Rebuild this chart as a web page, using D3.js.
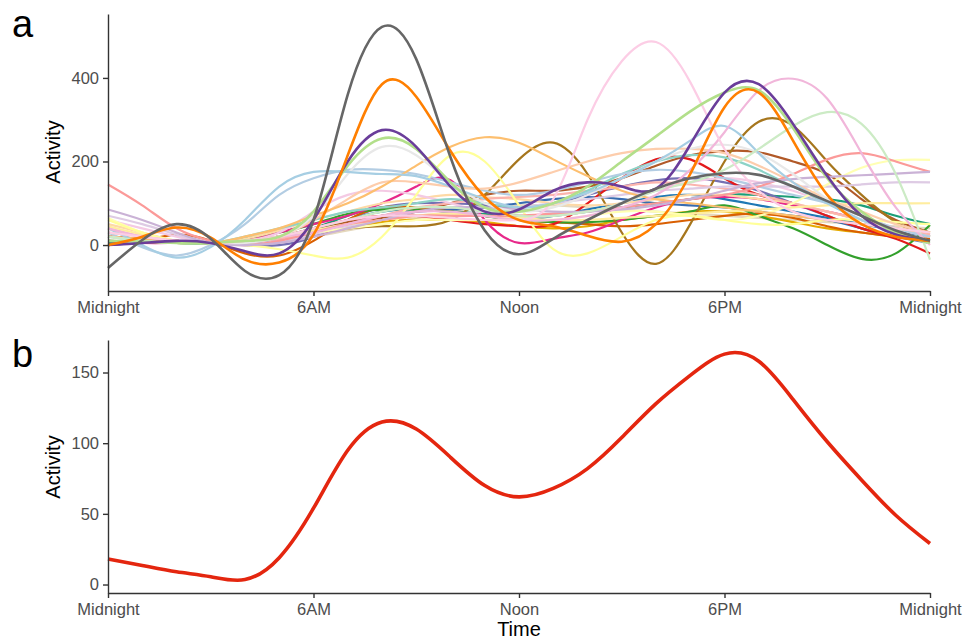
<!DOCTYPE html>
<html>
<head>
	<title>Activity by time of day</title>
	<meta charset="utf-8" />
	<style>
		html, body { margin: 0; background: #fff; }
		svg text { font-family: "Liberation Sans", Arial, sans-serif; }
		.axis path, .axis line { stroke: #333; stroke-width: 1.4; }
		.axis text { fill: #4d4d4d; font-size: 16.5px; }
	</style>
	<script src="https://cdn.jsdelivr.net/npm/d3@7"></script>
</head>
<body>
<svg id="chart" width="969" height="641"></svg>
<script>
// hours sampled 0..24
var hours = d3.range(0, 25);
var hourTicks = [0, 6, 12, 18, 24];
var hourLabels = ["Midnight", "6AM", "Noon", "6PM", "Midnight"];
var ticksA = [0, 200, 400];
var ticksB = [0, 50, 100, 150];

// panel a: one curve per individual
var sGrey     = [-55, 12, 50, 15, -62, -72, 60, 360, 522, 445, 210, 35, -22, 15, 60, 100, 135, 160, 172, 168, 140, 105, 70, 35, 10];
var sOrange   = [0, 20, 42, 18, -35, -42, 25, 215, 385, 355, 225, 115, 60, 45, 22, 8, 50, 170, 330, 365, 250, 120, 50, 20, 10];
var sPurple   = [0, 5, 10, 5, -15, -20, 60, 200, 275, 235, 140, 80, 85, 130, 150, 140, 135, 240, 365, 385, 290, 165, 70, 25, 10];
var sLtGreen  = [10, 8, 5, 5, 10, 20, 80, 190, 255, 230, 150, 90, 80, 100, 140, 200, 260, 320, 365, 370, 280, 160, 80, 30, 5];
var sPink     = [30, 20, 10, 5, 10, 20, 40, 60, 70, 70, 65, 60, 60, 110, 300, 440, 486, 390, 230, 130, 80, 60, 50, 40, 30];
var sLilac    = [40, 20, 10, 5, 10, 20, 30, 50, 70, 80, 80, 70, 60, 60, 70, 90, 120, 180, 270, 370, 398, 350, 220, 90, 0];
var sPaleGrn  = [20, 10, 5, 5, 10, 20, 40, 60, 80, 90, 90, 80, 70, 70, 80, 100, 130, 150, 180, 230, 285, 318, 290, 170, -35];
var sBrown    = [10, 8, 5, 5, 10, 20, 30, 40, 45, 45, 60, 120, 205, 245, 170, 30, -45, 50, 200, 295, 285, 200, 120, 55, 20];
var sRust     = [20, 15, 10, 5, 10, 20, 40, 55, 65, 80, 100, 120, 130, 130, 140, 160, 190, 215, 225, 222, 200, 170, 110, 60, 30];
var sPeach    = [20, 15, 10, 5, 20, 40, 70, 100, 140, 190, 235, 258, 245, 205, 165, 130, 110, 100, 90, 80, 70, 60, 50, 40, 30];
var sApricot  = [30, 20, 10, 5, 10, 20, 60, 110, 150, 150, 140, 135, 150, 175, 200, 220, 230, 230, 220, 190, 150, 110, 80, 50, 30];
var sYellow   = [60, 30, 10, 5, 0, -10, -25, -30, 20, 120, 215, 200, 95, -10, -20, 20, 60, 70, 60, 50, 50, 60, 60, 55, 50];
var sLemon    = [65, 30, 10, 5, 10, 20, 30, 40, 50, 60, 60, 60, 60, 60, 70, 80, 80, 70, 60, 70, 100, 145, 185, 203, 204];
var sCream    = [45, 25, 10, 5, 10, 20, 35, 50, 60, 70, 75, 70, 65, 60, 60, 65, 70, 75, 80, 85, 90, 95, 100, 100, 100];
var sLtBlue   = [40, 0, -30, -5, 60, 140, 175, 175, 170, 165, 140, 110, 90, 100, 125, 160, 200, 250, 285, 220, 150, 100, 60, 30, 10];
var sSky      = [30, -5, -25, 0, 50, 120, 160, 180, 180, 170, 150, 130, 120, 130, 150, 170, 180, 175, 160, 140, 120, 100, 70, 40, 20];
var sGreen    = [10, 8, 5, 5, 15, 30, 50, 75, 85, 85, 80, 70, 60, 55, 55, 60, 70, 80, 95, 70, 40, 0, -33, -20, 48];
var sTeal     = [5, 5, 5, 5, 10, 20, 40, 70, 90, 85, 80, 75, 70, 70, 80, 90, 100, 110, 120, 120, 115, 110, 95, 70, 50];
var sRed      = [20, 15, 10, 5, 10, 20, 40, 60, 70, 70, 60, 50, 45, 50, 100, 160, 205, 205, 160, 120, 100, 70, 40, 15, -20];
var sMagenta  = [10, 5, 5, 5, 10, 30, 50, 70, 100, 140, 155, 60, 5, 15, 30, 60, 90, 110, 115, 110, 95, 80, 60, 40, 25];
var sSalmon   = [145, 95, 40, 10, 0, 10, 30, 50, 60, 70, 70, 70, 70, 75, 80, 90, 100, 110, 120, 140, 170, 205, 220, 200, 175];
var sLavender = [85, 60, 30, 5, 0, 5, 20, 40, 60, 80, 90, 90, 85, 80, 80, 85, 95, 110, 130, 148, 158, 163, 167, 171, 175];
var sSilver   = [20, 10, 5, 5, 5, 20, 70, 170, 235, 215, 150, 100, 80, 90, 120, 160, 200, 230, 240, 220, 170, 110, 60, 30, 10];
var sMint     = [20, 10, 5, 5, 20, 40, 60, 80, 90, 100, 110, 100, 90, 100, 130, 170, 200, 215, 210, 180, 140, 100, 60, 30, 10];
var sBlue     = [5, 5, 5, 5, 10, 20, 35, 60, 80, 85, 80, 70, 60, 70, 85, 100, 115, 120, 110, 95, 80, 65, 50, 35, 20];
var sNavy     = [0, 5, 5, 5, 5, 10, 30, 50, 70, 80, 85, 90, 100, 110, 115, 110, 100, 95, 90, 80, 70, 60, 40, 20, 10];
var sSand     = [50, 30, 10, 5, 15, 35, 60, 80, 100, 110, 120, 115, 110, 100, 95, 100, 110, 120, 120, 110, 100, 80, 60, 40, 20];
var sRose     = [60, 40, 20, 5, 10, 30, 80, 120, 130, 120, 100, 80, 70, 70, 80, 100, 130, 150, 160, 150, 130, 100, 70, 40, 20];
var sMustard  = [5, 5, 5, 5, 10, 15, 25, 40, 55, 60, 60, 55, 45, 40, 45, 60, 70, 80, 80, 70, 55, 40, 30, 20, 10];
var sIndigo   = [0, 5, 5, 5, 0, 0, 20, 60, 90, 100, 100, 95, 90, 100, 120, 140, 155, 160, 150, 130, 100, 70, 40, 20, 5];
var sBlush    = [40, 20, 10, 5, 5, 15, 30, 50, 70, 90, 100, 110, 115, 120, 130, 140, 150, 145, 135, 120, 100, 80, 60, 40, 25];
var sMauve    = [70, 50, 25, 5, 0, 10, 25, 45, 60, 70, 75, 80, 90, 100, 110, 120, 130, 135, 140, 140, 140, 140, 145, 150, 150];
var sBeige    = [20, 15, 10, 5, 5, 10, 20, 35, 50, 65, 80, 90, 95, 95, 90, 85, 80, 75, 70, 65, 60, 55, 50, 45, 40];
var sDkOrange = [0, 10, 25, 10, -20, -25, 10, 60, 90, 90, 80, 70, 60, 55, 50, 45, 50, 60, 70, 75, 65, 45, 30, 20, 15];

var seriesA = [sBeige, sMustard, sNavy, sBlue, sTeal, sIndigo, sDkOrange, sGreen, sRed, sMagenta, sRust,
	sBrown, sSand, sBlush, sRose, sMauve, sMint, sSky, sCream, sLemon, sYellow, sApricot, sPeach,
	sSalmon, sLavender, sSilver, sLtBlue, sPaleGrn, sLilac, sPink, sLtGreen, sPurple, sOrange, sGrey];
var colorsA = ["#e5d8bd", "#e6ab02", "#386cb0", "#1f78b4", "#1b9e77", "#7570b3", "#d95f02", "#33a02c", "#e31a1c", "#e7298a", "#b15928",
	"#a6761d", "#fed9a6", "#fbb4ae", "#f4cae4", "#decbe4", "#8dd3c7", "#b3cde3", "#ffed9f", "#ffffb3", "#ffff99", "#fdcdac", "#fdbf6f",
	"#fb9a99", "#cab2d6", "#e8e8e8", "#a6cee3", "#ccebc5", "#f1b6da", "#fccde5", "#b2df8a", "#6a3d9a", "#ff7f00", "#666666"];

// panel b: average activity
var meanB = [18, 13.5, 9, 5.5, 3.5, 19, 54, 95, 115, 110, 90, 70, 62, 68, 82, 104, 128, 148, 163, 158, 131, 101, 74, 49, 29];

var svg = d3.select("#chart");

var x = d3.scaleLinear().domain([0, 24]).range([108, 930]);
var yA = d3.scaleLinear().domain([-110, 553]).range([291, 14]);
var yB = d3.scaleLinear().domain([-6, 173]).range([593, 340]);

function xAxis(sel) {
	sel.call(d3.axisBottom(x).tickValues(hourTicks)
		.tickFormat(function(d, i) { return hourLabels[i]; })
		.tickSize(5).tickSizeOuter(0).tickPadding(5));
}

// panel a
var lineA = d3.line().curve(d3.curveNatural)
	.x(function(d, i) { return x(hours[i]); })
	.y(function(d) { return yA(d); });

svg.append("g").selectAll("path").data(seriesA).enter()
	.append("path")
	.attr("d", lineA)
	.attr("fill", "none")
	.attr("stroke", function(d, i) { return colorsA[i]; })
	.attr("stroke-width", function(d, i) { return i >= seriesA.length - 4 ? 2.6 : 2.2; });

svg.append("g").attr("class", "axis").attr("transform", "translate(0,291)").call(xAxis);
svg.append("g").attr("class", "axis").attr("transform", "translate(108,0)")
	.call(d3.axisLeft(yA).tickValues(ticksA).tickSize(5).tickSizeOuter(0).tickPadding(4));

// panel b
var lineB = d3.line().curve(d3.curveNatural)
	.x(function(d, i) { return x(hours[i]); })
	.y(function(d) { return yB(d); });

svg.append("path").datum(meanB)
	.attr("d", lineB)
	.attr("fill", "none")
	.attr("stroke", "#e4260f")
	.attr("stroke-width", 3.6);

svg.append("g").attr("class", "axis").attr("transform", "translate(0,593)").call(xAxis);
svg.append("g").attr("class", "axis").attr("transform", "translate(108,0)")
	.call(d3.axisLeft(yB).tickValues(ticksB).tickSize(5).tickSizeOuter(0).tickPadding(4));

// titles
svg.append("text").attr("x", 12).attr("y", 37).attr("font-size", 38).text("a");
svg.append("text").attr("x", 12).attr("y", 367).attr("font-size", 38).text("b");

svg.append("text").attr("transform", "translate(60,152) rotate(-90)")
	.attr("text-anchor", "middle").attr("font-size", 20).text("Activity");
svg.append("text").attr("transform", "translate(60,467) rotate(-90)")
	.attr("text-anchor", "middle").attr("font-size", 20).text("Activity");
svg.append("text").attr("x", 519).attr("y", 636)
	.attr("text-anchor", "middle").attr("font-size", 20).text("Time");
</script>
</body>
</html>
